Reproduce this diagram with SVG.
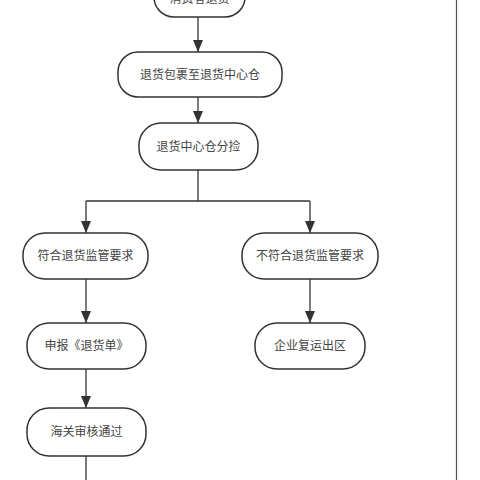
<svg xmlns="http://www.w3.org/2000/svg" width="480" height="480" viewBox="0 0 480 480">
<style>
.n rect{fill:#ffffff;stroke:#333333;stroke-width:1.5}
.n text{font-family:"Liberation Sans","Noto Sans CJK SC",sans-serif;font-size:12px;fill:#444444;text-anchor:middle}
.c path{fill:none;stroke:#333333;stroke-width:1.3}
</style>
<defs>
<marker id="ah" viewBox="0 0 12 10" refX="12" refY="5" markerWidth="12" markerHeight="10" markerUnits="userSpaceOnUse" orient="auto">
<path d="M0,0 L12,5 L0,10 z" fill="#333333"/>
</marker>
</defs>
<rect x="0" y="0" width="480" height="480" fill="#ffffff"/>
<g class="c">
<path d="M198,17 V52" marker-end="url(#ah)"/>
<path d="M198,97 V123" marker-end="url(#ah)"/>
<path d="M198,170 V201"/>
<path d="M86,201 H310"/>
<path d="M86,201 V233" marker-end="url(#ah)"/>
<path d="M310,201 V233" marker-end="url(#ah)"/>
<path d="M86,279 V323" marker-end="url(#ah)"/>
<path d="M310,279 V323" marker-end="url(#ah)"/>
<path d="M86,369 V408" marker-end="url(#ah)"/>
<path d="M86,456 V480"/>
<path d="M456.5,0 V480" style="stroke:#555555;stroke-width:1.2"/>
</g>
<g id="n0" class="n"><rect x="154" y="-30" width="91" height="47" rx="20"/><text x="199.5" y="3">消费者退货</text></g>
<g id="n1" class="n"><rect x="118" y="52" width="164" height="45" rx="20"/><text x="200" y="79">退货包裹至退货中心仓</text></g>
<g id="n2" class="n"><rect x="139" y="123" width="119" height="47" rx="22"/><text x="198.5" y="151">退货中心仓分捡</text></g>
<g id="n3" class="n"><rect x="23" y="233" width="125" height="46" rx="22"/><text x="85.5" y="260">符合退货监管要求</text></g>
<g id="n4" class="n"><rect x="242" y="233" width="136" height="46" rx="22"/><text x="310" y="260">不符合退货监管要求</text></g>
<g id="n5" class="n"><rect x="27" y="323" width="119" height="46" rx="22"/><text x="86.5" y="350">申报《退货单》</text></g>
<g id="n6" class="n"><rect x="255" y="323" width="110" height="46" rx="22"/><text x="310" y="350">企业复运出区</text></g>
<g id="n7" class="n"><rect x="27" y="408" width="119" height="48" rx="22"/><text x="86.5" y="436">海关审核通过</text></g>
</svg>
